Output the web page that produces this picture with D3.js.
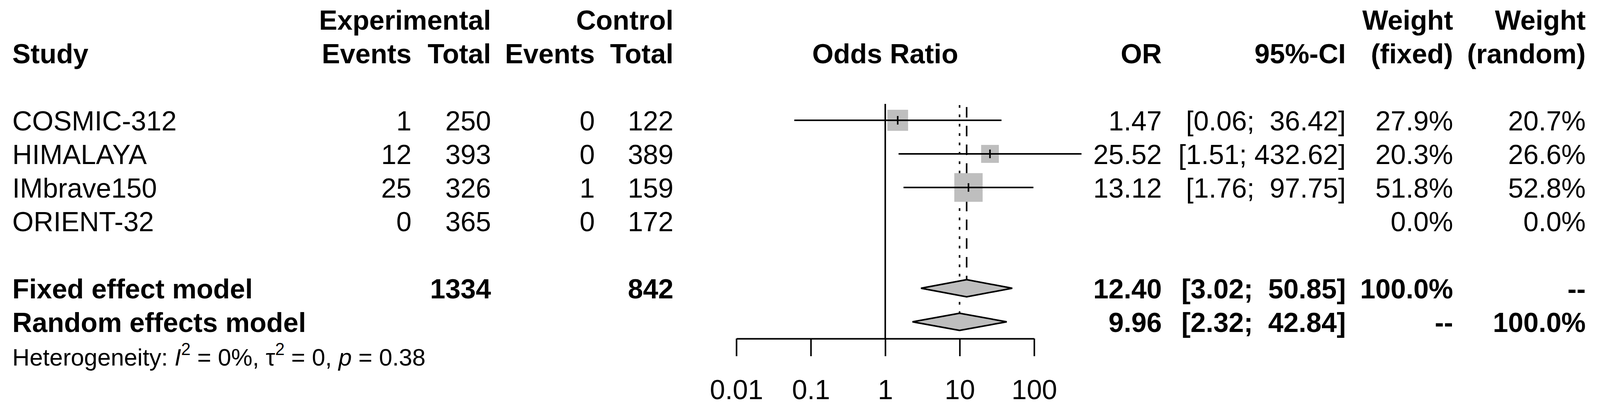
<!DOCTYPE html>
<html>
<head>
<meta charset="utf-8">
<script src="https://cdn.jsdelivr.net/npm/d3@7"></script>
<style>
  html, body { margin: 0; padding: 0; background: #ffffff; overflow: hidden; width: 100%; height: 100%; }
  svg { display: block; width: 100vw; height: 100vh; }
  text { font-family: "Liberation Sans", Arial, Helvetica, sans-serif; fill: #000; white-space: pre; }
</style>
</head>
<body>
<svg id="chart" viewBox="0 0 4148 1060" preserveAspectRatio="none"></svg>
<script>
// ---------------- data ----------------
const studies      = ["COSMIC-312", "HIMALAYA", "IMbrave150", "ORIENT-32"];
const expEvents    = [1, 12, 25, 0];
const expTotal     = [250, 393, 326, 365];
const ctrlEvents   = [0, 0, 1, 0];
const ctrlTotal    = [122, 389, 159, 172];
const oddsRatio    = [1.47, 25.52, 13.12, null];
const ciLower      = [0.06, 1.51, 1.76, null];
const ciUpper      = [36.42, 432.62, 97.75, null];
const weightFixed  = [27.9, 20.3, 51.8, 0.0];
const weightRandom = [20.7, 26.6, 52.8, 0.0];

const modelNames     = ["Fixed effect model", "Random effects model"];
const modelExpTotal  = [1334, null];
const modelCtrlTotal = [842, null];
const modelOR        = [12.40, 9.96];
const modelLower     = [3.02, 2.32];
const modelUpper     = [50.85, 42.84];
const modelWFixed    = ["100.0%", "--"];
const modelWRandom   = ["--", "100.0%"];

const tickValues = [0.01, 0.1, 1, 10, 100];
const tickLabels = ["0.01", "0.1", "1", "10", "100"];

// ---------------- layout ----------------
const svg = d3.select("#chart");
const x = d3.scaleLog().domain([0.01, 100]).range([1909, 2681]);
const row = d3.scaleLinear().domain([0, 10]).range([76, 936]);   // text baselines
const CENTER = 26;
const side = d3.scaleSqrt().domain([0, 100]).range([0, 102]);
const col = { name: 32, expEv: 1067, expTot: 1273, ctlEv: 1542, ctlTot: 1746,
              or: 3012, ciHi: 3489, wf: 3767, wr: 4111 };
const FS = 71, FS_HET = 62;
const f2 = d3.format(".2f"), f1 = d3.format(".1f");
const axisY = 867;

const upperWidth = d3.max(ciUpper.concat(modelUpper).filter(v => v != null), v => f2(v).length);
function ciLabel(lo, hi) {
  const h = f2(hi);
  return "[" + f2(lo) + "; " + " ".repeat(upperWidth - h.length) + h + "]";
}

function txt(g, s, xx, yy, anchor, bold, size) {
  return g.append("text").attr("x", xx).attr("y", yy)
    .attr("text-anchor", anchor || "start")
    .attr("font-weight", bold ? "bold" : "normal")
    .attr("font-size", size || FS).text(s);
}

// ---------------- headers ----------------
const gh = svg.append("g");
txt(gh, "Experimental", col.expTot, row(0), "end", true);
txt(gh, "Control", col.ctlTot, row(0), "end", true);
txt(gh, "Weight", col.wf, row(0), "end", true);
txt(gh, "Weight", col.wr, row(0), "end", true);
txt(gh, "Study", col.name, row(1), "start", true);
txt(gh, "Events", col.expEv, row(1), "end", true);
txt(gh, "Total", col.expTot, row(1), "end", true);
txt(gh, "Events", col.ctlEv, row(1), "end", true);
txt(gh, "Total", col.ctlTot, row(1), "end", true);
txt(gh, "Odds Ratio", x(1), row(1), "middle", true);
txt(gh, "OR", col.or, row(1), "end", true);
txt(gh, "95%-CI", col.ciHi, row(1), "end", true);
txt(gh, "(fixed)", col.wf, row(1), "end", true);
txt(gh, "(random)", col.wr, row(1), "end", true);

// ---------------- reference lines ----------------
const gl = svg.append("g");
const topY = 266;
gl.append("line").attr("x1", x(1)).attr("x2", x(1)).attr("y1", topY).attr("y2", axisY)
  .attr("stroke", "#000").attr("stroke-width", 4);
gl.append("line").attr("x1", x(modelOR[0])).attr("x2", x(modelOR[0]))
  .attr("y1", topY + 8).attr("y2", row(8) - CENTER - 22)
  .attr("stroke", "#000").attr("stroke-width", 4).attr("stroke-dasharray", "27,21");
gl.append("line").attr("x1", x(modelOR[1])).attr("x2", x(modelOR[1]))
  .attr("y1", topY + 3).attr("y2", row(9) - CENTER - 22)
  .attr("stroke", "#000").attr("stroke-width", 4).attr("stroke-dasharray", "7,17");

// ---------------- study rows ----------------
const gs = svg.append("g");
studies.forEach((s, i) => {
  const by = row(3 + i), cy = by - CENTER;
  txt(gs, s, col.name, by, "start", false);
  txt(gs, String(expEvents[i]), col.expEv, by, "end", false);
  txt(gs, String(expTotal[i]), col.expTot, by, "end", false);
  txt(gs, String(ctrlEvents[i]), col.ctlEv, by, "end", false);
  txt(gs, String(ctrlTotal[i]), col.ctlTot, by, "end", false);
  if (oddsRatio[i] != null) {
    txt(gs, f2(oddsRatio[i]), col.or, by, "end", false);
    txt(gs, ciLabel(ciLower[i], ciUpper[i]), col.ciHi, by, "end", false);
    const w = side(weightFixed[i]);
    gs.append("rect").attr("x", x(oddsRatio[i]) - w / 2).attr("y", cy - w / 2)
      .attr("width", w).attr("height", w).attr("fill", "#bebebe");
    gs.append("line").attr("x1", x(ciLower[i])).attr("x2", x(ciUpper[i]))
      .attr("y1", cy).attr("y2", cy).attr("stroke", "#000").attr("stroke-width", 4);
    gs.append("line").attr("x1", x(oddsRatio[i])).attr("x2", x(oddsRatio[i]))
      .attr("y1", cy - 11).attr("y2", cy + 11).attr("stroke", "#000").attr("stroke-width", 4);
  }
  txt(gs, f1(weightFixed[i]) + "%", col.wf, by, "end", false);
  txt(gs, f1(weightRandom[i]) + "%", col.wr, by, "end", false);
});

// ---------------- model rows ----------------
const gm = svg.append("g");
modelNames.forEach((m, j) => {
  const by = row(8 + j), cy = by - CENTER, h = 22;
  txt(gm, m, col.name, by, "start", true);
  if (modelExpTotal[j] != null) txt(gm, String(modelExpTotal[j]), col.expTot, by, "end", true);
  if (modelCtrlTotal[j] != null) txt(gm, String(modelCtrlTotal[j]), col.ctlTot, by, "end", true);
  txt(gm, f2(modelOR[j]), col.or, by, "end", true);
  txt(gm, ciLabel(modelLower[j], modelUpper[j]), col.ciHi, by, "end", true);
  txt(gm, modelWFixed[j], col.wf, by, "end", true);
  txt(gm, modelWRandom[j], col.wr, by, "end", true);
  const pts = [[x(modelLower[j]), cy], [x(modelOR[j]), cy - h], [x(modelUpper[j]), cy], [x(modelOR[j]), cy + h]];
  gm.append("path").attr("d", d3.line()(pts) + "Z")
    .attr("fill", "#bebebe").attr("stroke", "#000").attr("stroke-width", 4)
    .attr("stroke-linejoin", "miter");
});

// ---------------- heterogeneity ----------------
const het = svg.append("text").attr("x", col.name).attr("y", row(10)).attr("font-size", FS_HET);
het.append("tspan").text("Heterogeneity: ");
het.append("tspan").attr("font-style", "italic").text("I");
het.append("tspan").attr("font-size", 44).attr("dy", -27).text("2");
het.append("tspan").attr("dy", 27).text(" = 0%, \u03C4");
het.append("tspan").attr("font-size", 44).attr("dy", -27).text("2");
het.append("tspan").attr("dy", 27).text(" = 0, ");
het.append("tspan").attr("font-style", "italic").text("p");
het.append("tspan").text(" = 0.38");

// ---------------- axis ----------------
const axis = d3.axisBottom(x).tickValues(tickValues)
  .tickFormat((d, i) => tickLabels[i]).tickSize(45).tickSizeOuter(0);
const ga = svg.append("g").attr("transform", `translate(0,${axisY})`).call(axis);
ga.select(".domain").attr("stroke", "#000").attr("stroke-width", 4);
ga.selectAll(".tick line").attr("stroke", "#000").attr("stroke-width", 4);
ga.selectAll(".tick text").attr("y", 155).attr("dy", 0)
  .attr("font-size", FS).attr("font-family", "Liberation Sans, Arial, sans-serif").attr("fill", "#000");
</script>
</body>
</html>
